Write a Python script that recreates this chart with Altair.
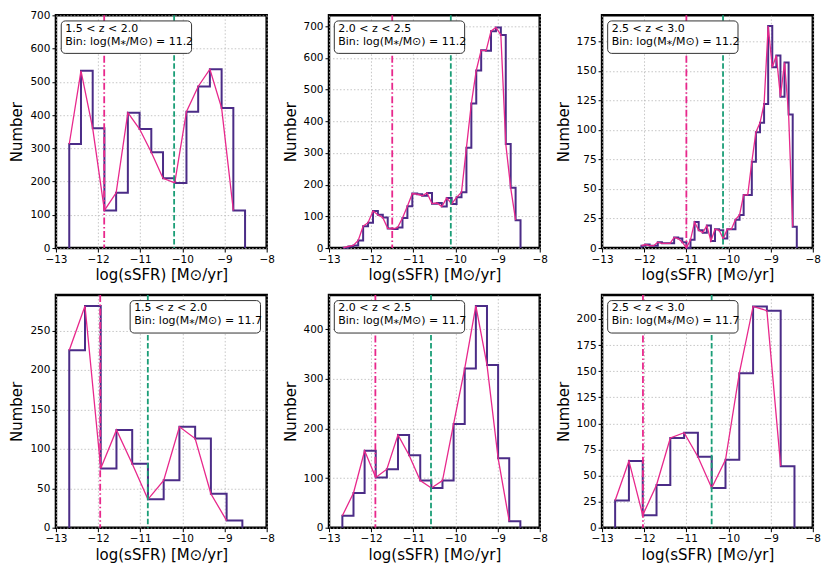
import altair as alt
import numpy as np
import pandas as pd

# ---------------- data ----------------
Z_LABELS = ["1.5 < z < 2.0", "2.0 < z < 2.5", "2.5 < z < 3.0"]
MASS_LABELS = ["Bin: log(M⁎/M⊙) = 11.2", "Bin: log(M⁎/M⊙) = 11.7"]

X_TICKS = [-13, -12, -11, -10, -9, -8]

# row 1 : mass bin 11.2
p1_range = (-12.684, -8.513)
p1_counts = [313, 533, 360, 113, 166, 407, 358, 288, 210, 196, 410, 486, 538, 421, 113]
p1_lines = (-11.855, -10.196)

p2_range = (-12.657, -8.456)
p2_counts = [1, 5, 8, 24, 69, 80, 117, 105, 96, 62, 60, 65, 95, 132, 172, 170, 165, 174,
             140, 142, 131, 158, 139, 160, 176, 316, 456, 560, 624, 622, 684, 696, 672,
             328, 190, 88]
p2_lines = (-11.50, -10.11)

p3_range = (-12.066, -8.38)
p3_counts = [2, 3, 2, 2, 5, 4, 4, 4, 9, 8, 5, 0, 7, 22, 15, 13, 19, 6, 16, 15, 8, 16, 16,
             24, 28, 45, 45, 73, 98, 106, 122, 188, 153, 163, 128, 157, 113, 18]
p3_lines = (-11.00, -10.13)

# row 2 : mass bin 11.7
p4_range = (-12.684, -8.577)
p4_counts = [225, 281, 75, 124, 81, 36, 60, 128, 113, 43, 9]
p4_lines = (-11.95, -10.82)

p5_range = (-12.683, -8.46)
p5_counts = [24, 70, 155, 101, 118, 187, 146, 95, 80, 95, 209, 321, 447, 328, 140, 13]
p5_lines = (-11.90, -10.58)

p6_range = (-12.69, -8.435)
p6_counts = [26, 64, 12, 41, 86, 91, 68, 38, 65, 148, 212, 208, 59]
p6_lines = (-12.03, -10.40)

# y axes: (domain max, tick step, last tick)
p1_y = (700, 100, 700)
p2_y = (734, 100, 700)
p3_y = (197, 25, 175)
p4_y = (295, 50, 250)
p5_y = (469, 100, 400)
p6_y = (223, 25, 200)

# ---------------- style ----------------
FONT = "DejaVu Sans"
PURPLE = "#4b2c87"
PINK = "#e8288c"
GREEN = "#1b9e77"
W, H = 211, 233
BOX_W, BOX_H = 130.5, 32.5


def panel(counts, rng, lines, yinfo, zlab, mlab, box_left):
    n = len(counts)
    edges = np.linspace(rng[0], rng[1], n + 1)
    step_df = pd.DataFrame({
        "x": [edges[0]] + list(edges[:-1]) + [edges[-1]],
        "y": [0] + list(counts) + [0],
        "o": list(range(n + 2)),
    })
    pink_df = pd.DataFrame({"x": edges[:-1], "y": counts, "o": list(range(n))})

    ymax, ystep, ylast = yinfo
    xsc = alt.Scale(domain=[-13, -8], nice=False, padding=0)
    ysc = alt.Scale(domain=[0, ymax], nice=False, padding=0)
    xax = alt.Axis(values=X_TICKS, tickCount=20, format="d", labelFlush=False,
                   title="log(sSFR) [M⊙/yr]")
    yax = alt.Axis(values=list(range(0, ylast + 1, ystep)), tickCount=20, format="d",
                   labelFlush=False, title="Number")

    step = alt.Chart(step_df).mark_line(
        interpolate="step-after", color=PURPLE, strokeWidth=2
    ).encode(
        x=alt.X("x:Q", scale=xsc, axis=xax),
        y=alt.Y("y:Q", scale=ysc, axis=yax),
        order="o:Q",
    )
    pink = alt.Chart(pink_df).mark_line(color=PINK, strokeWidth=1.3).encode(
        x="x:Q", y="y:Q", order="o:Q"
    )
    rule_p = alt.Chart(pd.DataFrame({"x": [lines[0]]})).mark_rule(
        color=PINK, strokeWidth=1.8, strokeDash=[7, 2.5, 1.5, 2.5]
    ).encode(x="x:Q")
    rule_g = alt.Chart(pd.DataFrame({"x": [lines[1]]})).mark_rule(
        color=GREEN, strokeWidth=1.8, strokeDash=[5.5, 2.5]
    ).encode(x="x:Q")
    box = alt.Chart(pd.DataFrame({"a": [0]})).mark_rect(
        fill="white", stroke="#333333", strokeWidth=1, cornerRadius=4
    ).encode(
        x=alt.value(box_left), x2=alt.value(box_left + BOX_W),
        y=alt.value(5.6), y2=alt.value(5.6 + BOX_H),
    )
    t1 = alt.Chart(pd.DataFrame({"t": [zlab]})).mark_text(
        align="left", baseline="middle", font=FONT, fontSize=11, color="black"
    ).encode(x=alt.value(box_left + 4), y=alt.value(13.5), text="t:N")
    t2 = alt.Chart(pd.DataFrame({"t": [mlab]})).mark_text(
        align="left", baseline="middle", font=FONT, fontSize=11, color="black"
    ).encode(x=alt.value(box_left + 4), y=alt.value(26.5), text="t:N")
    return alt.layer(step, pink, rule_p, rule_g, box, t1, t2).properties(width=W, height=H)


panels = [
    panel(p1_counts, p1_range, p1_lines, p1_y, Z_LABELS[0], MASS_LABELS[0], 5.3),
    panel(p2_counts, p2_range, p2_lines, p2_y, Z_LABELS[1], MASS_LABELS[0], 5.3),
    panel(p3_counts, p3_range, p3_lines, p3_y, Z_LABELS[2], MASS_LABELS[0], 5.6),
    panel(p4_counts, p4_range, p4_lines, p4_y, Z_LABELS[0], MASS_LABELS[1], 74.3),
    panel(p5_counts, p5_range, p5_lines, p5_y, Z_LABELS[1], MASS_LABELS[1], 5.3),
    panel(p6_counts, p6_range, p6_lines, p6_y, Z_LABELS[2], MASS_LABELS[1], 5.6),
]

chart = alt.concat(
    *panels, columns=3, spacing=alt.RowColnumber(row=47, column=62.4), bounds="flush"
).configure_view(
    stroke="black", strokeWidth=2.5
).configure_axis(
    domain=False, grid=True, gridColor="#b8b8b8", gridDash=[1.5, 2], gridWidth=0.8,
    tickColor="black", tickSize=4, tickWidth=1,
    labelFont=FONT, labelFontSize=10.5, labelColor="black", labelPadding=2,
    titleFont=FONT, titleFontSize=15, titleFontWeight="normal", titleColor="black",
).configure_axisY(titlePadding=5).configure_axisX(titlePadding=3).properties(
    padding={"left": 0, "top": 0, "right": 0, "bottom": 0}, background="white"
)

chart.save("out.html", embed_options={"renderer": "svg", "actions": False})
